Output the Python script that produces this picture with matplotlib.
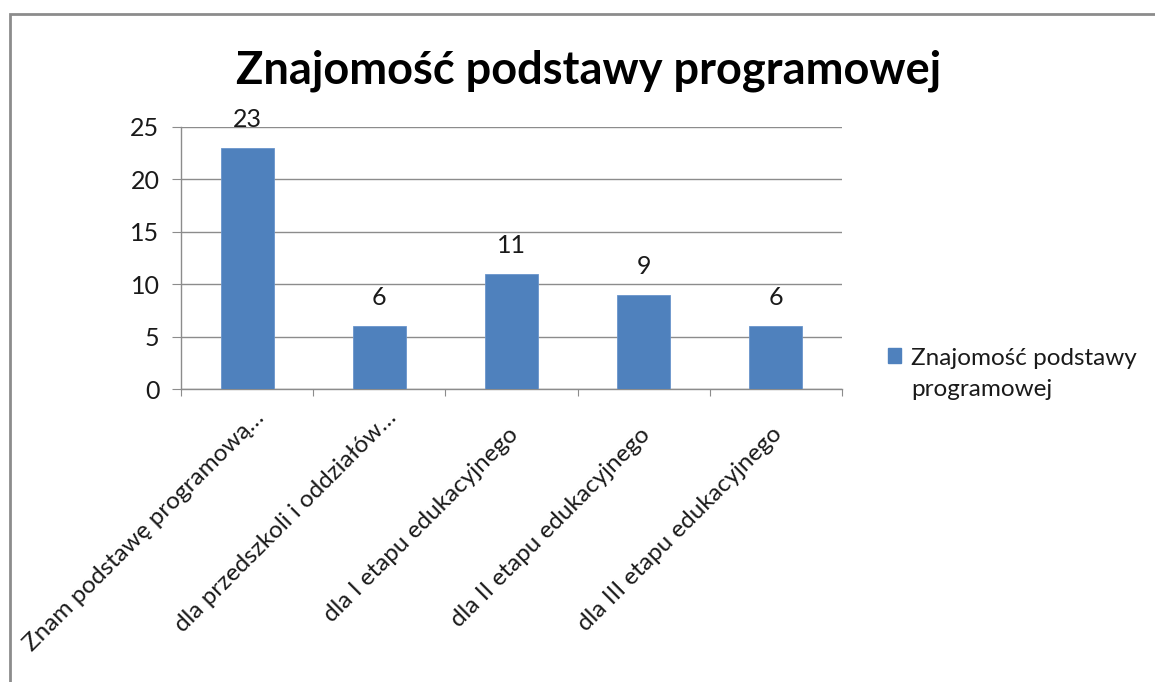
import matplotlib.pyplot as plt
import matplotlib.transforms as mtransforms
from matplotlib.patches import Rectangle, Patch

categories = ['Znam podstawę programową…', 'dla przedszkoli i oddziałów…',
              'dla I etapu edukacyjnego', 'dla II etapu edukacyjnego',
              'dla III etapu edukacyjnego']
values = [23, 6, 11, 9, 6]
series_name = 'Znajomość podstawy\nprogramowej'
title = 'Znajomość podstawy programowej'
yticks = [0, 5, 10, 15, 20, 25]

plt.rcParams['font.family'] = ['Lato', 'DejaVu Sans']

W, H = 1155, 682
fig = plt.figure(figsize=(W / 100, H / 100), dpi=100)

# chart border (top and left visible in reference)
fig.patches.append(Rectangle((10 / W, -0.05), 1.2, 1 - 14 / H + 0.05, transform=fig.transFigure,
                             fill=False, edgecolor='#8c8c8c', linewidth=2.0))

ax = fig.add_axes([181 / W, 1 - 389 / H, (842 - 181) / W, (389 - 127) / H])
x = list(range(len(categories)))
bars = ax.bar(x, values, width=0.4, color='#4F81BD', edgecolor='#6a95cc', linewidth=0.6, zorder=3)

ax.set_xlim(-0.5, len(categories) - 0.5)
ax.set_ylim(0, 25)
ax.set_yticks(yticks)
ax.grid(axis='y', color='#8c8c8c', linewidth=1.0, zorder=0)
ax.set_axisbelow(True)

for s in ['top', 'right']:
    ax.spines[s].set_visible(False)
for s in ['left', 'bottom']:
    ax.spines[s].set_color('#8c8c8c')
    ax.spines[s].set_linewidth(1.0)

ax.set_xticks([i - 0.5 for i in range(len(categories) + 1)])
ax.set_xticklabels([])
ax.tick_params(axis='x', length=5, color='#8c8c8c', direction='out')
ax.tick_params(axis='y', length=6.5, color='#8c8c8c', labelsize=18, labelcolor='#1a1a1a', pad=9)

# rotated category labels, anchored by their right end below each category
base = mtransforms.blended_transform_factory(ax.transData, ax.transAxes)
for i, lab in zip(x, categories):
    if lab.endswith('…'):
        dx, dy = 14, -25
    else:
        dx, dy = 3, -42
    tr = base + mtransforms.ScaledTranslation(dx / 100, dy / 100, fig.dpi_scale_trans)
    ax.text(i, 0, lab, transform=tr, rotation=45, ha='right', va='center',
            rotation_mode='anchor', fontsize=17.5, color='#1a1a1a', clip_on=False)

for b, v in zip(bars, values):
    ax.annotate(str(v), (b.get_x() + b.get_width() / 2, v), xytext=(0, 12),
                textcoords='offset points', ha='center', va='bottom', fontsize=18, color='#1a1a1a')

fig.text((237 + 940) / 2 / W, 1 - 71 / H, title, ha='center', va='center',
         fontsize=32.5, fontweight='bold', color='black')

leg = fig.legend(handles=[Patch(facecolor='#4F81BD', edgecolor='#4F81BD')], labels=[series_name],
                 loc='upper left', bbox_to_anchor=(866 / W, 1 - 326 / H), frameon=False,
                 fontsize=17.5, handlelength=0.55, handleheight=0.55, handletextpad=0.4,
                 labelcolor='#1a1a1a')
leg.get_texts()[0].set_linespacing(1.6)
for item in leg._legend_handle_box.get_children()[0].get_children():
    item.align = 'top'

fig.savefig('out.png', dpi=100)
